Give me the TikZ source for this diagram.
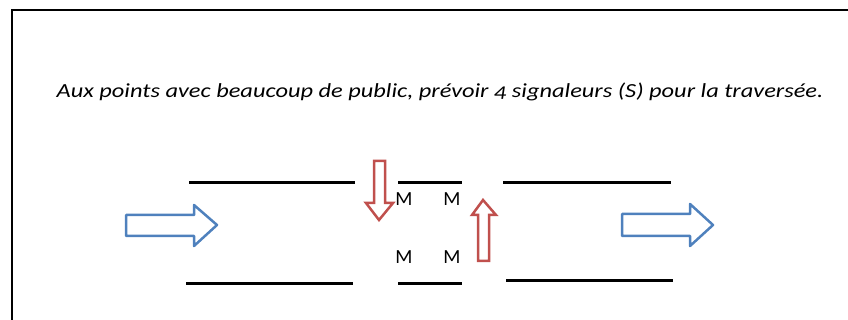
\documentclass[tikz,border=0pt]{standalone}
\usepackage{fontspec}
\setmainfont{Carlito}[Numbers=OldStyle]
\definecolor{arrowblue}{HTML}{4F81BD}
\definecolor{arrowred}{HTML}{C0504D}
\begin{document}
\begin{tikzpicture}[x=1pt,y=-1pt]
    \useasboundingbox (0,0) rectangle (848,320);
    %frame
    \draw [line width=2pt] (12,330) -- (12,10) -- (860,10);
    %title
    \node (title) at (440,92) {\fontsize{20}{24}\selectfont\itshape\scalebox{1.22}[1]{Aux points avec beaucoup de public, prévoir 4 signaleurs (S) pour la traversée.}};
    %road edges
    \draw [line width=3pt] (189,183) -- (355,183);
    \draw [line width=3pt] (186,283) -- (353,283);
    \draw [line width=3pt] (398,183) -- (462,183);
    \draw [line width=3pt] (398,283) -- (462,283);
    \draw [line width=3pt] (503,183) -- (671,183);
    \draw [line width=3pt] (506,280) -- (673,280);
    %traffic arrows
    \draw [arrowblue,line width=2.5pt,line join=round] (126,215) -- (194,215) -- (194,205) -- (217,225) -- (194,246) -- (194,236) -- (126,236) -- cycle;
    \draw [arrowblue,line width=2.5pt,line join=round] (622,214) -- (690,214) -- (690,204) -- (713,225) -- (690,246) -- (690,236) -- (622,236) -- cycle;
    %crossing arrows
    \draw [arrowred,line width=2.5pt] (374,161) -- (385,161) -- (385,203) -- (393,203) -- (379,220) -- (366,203) -- (374,203) -- cycle;
    \draw [arrowred,line width=2.5pt] (478,261) -- (489,261) -- (489,215) -- (496,215) -- (483,200) -- (472,215) -- (478,215) -- cycle;
    %signalmen
    \node (m1) at (404,199) {\fontsize{20}{22}\selectfont M};
    \node (m2) at (452,199) {\fontsize{20}{22}\selectfont M};
    \node (m3) at (404,257) {\fontsize{20}{22}\selectfont M};
    \node (m4) at (452,257) {\fontsize{20}{22}\selectfont M};
\end{tikzpicture}
\end{document}
